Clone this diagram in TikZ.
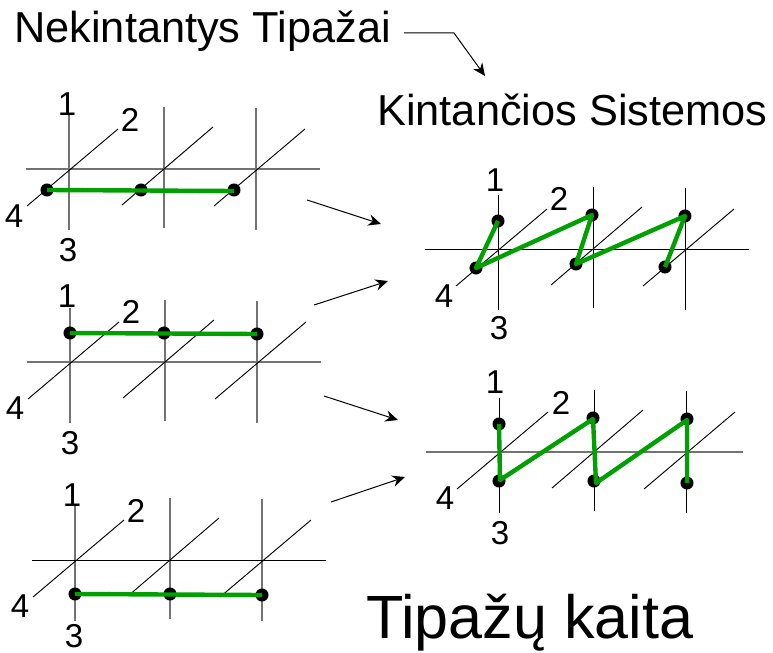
\documentclass[tikz,border=0pt]{standalone}
\usepackage{fontspec}
\setmainfont{Liberation Sans}
\usepackage{xcolor}
\usepackage{tikz}
\usetikzlibrary{arrows.meta}
\definecolor{tipgreen}{HTML}{00A000}
% one panel of axes: shift x, shift y, axis colour, colour of long line, its two ends
\newcommand{\tipgrid}[6]{%
  \begin{scope}[xshift=#1*0.75pt, yshift=-#2*0.75pt]
    \draw[#3] (69,115) -- (69,230);
    \draw[#3] (164,107) -- (164,228);
    \draw[#3] (256,108) -- (256,230);
    \draw[#4] (#5,169) -- (#6,169);
    \draw[diag] (27,206) -- (118,129);
    \draw[diag] (122,205) -- (213,127);
    \draw[diag] (214,206) -- (305,129);
  \end{scope}}

\begin{document}
\begin{tikzpicture}[
  x=0.75pt, y=-0.75pt,
  diag/.style={black, line width=0.7pt},
  gaxis/.style={black!55, line width=1pt},
  baxis/.style={black, line width=0.75pt},
  dot/.style={circle, fill=black, inner sep=0pt, minimum size=9.8pt},
  grn/.style={tipgreen, line width=3.3pt, line join=round},
  arr/.style={-{Stealth[length=9.5pt, width=8.5pt]}, black, line width=0.75pt},
  num/.style={font=\fontsize{24.8pt}{26pt}\selectfont, inner sep=0pt},
  ttl/.style={font=\fontsize{32.5pt}{36pt}\selectfont, inner sep=0pt, anchor=base west}]
\useasboundingbox (0,0) rectangle (773,652);
% ---- axes ----
\tipgrid{0}{0}{gaxis}{gaxis}{26}{320}
\tipgrid{1}{193}{gaxis}{gaxis}{26}{320}
\tipgrid{6}{391}{gaxis}{baxis}{26}{320}
\tipgrid{429}{80}{baxis}{baxis}{-4}{320}
\tipgrid{430}{283}{baxis}{gaxis}{-4}{313}
% ---- titles ----
\node[ttl] (fixed) at (14,43) {Nekintantys Tipažai};
\node[ttl] (varying) at (377,126) {Kintančios Sistemos};
\node[ttl, font=\fontsize{45.8pt}{50pt}\selectfont] (change) at (366,638) {Tipažų kaita};
% ---- first column ----
\node[num] (a1) at (67,104) {1};
\node[num] (a2) at (130,120) {2};
\node[num] (a3) at (68,250) {3};
\node[num] (a4) at (14,216) {4};
\node[dot] (ap) at (47,190) {};
\node[dot] (aq) at (141,190) {};
\node[dot] (ar) at (234,190) {};
\draw[grn] (ap.center) -- (234,191);
\node[num] (b1) at (67,296) {1};
\node[num] (b2) at (131,312) {2};
\node[num] (b3) at (70,443) {3};
\node[num] (b4) at (15,408) {4};
\node[dot] (bp) at (70,333) {};
\node[dot] (bq) at (164,333) {};
\node[dot] (br) at (257,334) {};
\draw[grn] (bp.center) -- (br.center);
\node[num] (c1) at (72,495) {1};
\node[num] (c2) at (136,511) {2};
\node[num] (c3) at (74,636.5) {3};
\node[num] (c4) at (20,606) {4};
\node[dot] (cp) at (75,594) {};
\node[dot] (cq) at (170,594) {};
\node[dot] (cr) at (262,595) {};
\draw[grn] (cp.center) -- (cr.center);
% ---- second column ----
\node[num] (d1) at (495,180) {1};
\node[num] (d2) at (559,199) {2};
\node[num] (d3) at (499,328) {3};
\node[num] (d4) at (444,296) {4};
\node[dot] (dp) at (498,221) {};
\node[dot] (dq) at (476,268) {};
\node[dot] (dr) at (592,215) {};
\node[dot] (ds) at (576,264) {};
\node[dot] (dt) at (685,216) {};
\node[dot] (du) at (665,267) {};
\draw[grn] (dp.center) -- (dq.center) -- (dr.center) -- (ds.center) -- (dt.center) -- (du.center);
\node[num] (e1) at (495,382) {1};
\node[num] (e2) at (561,403) {2};
\node[num] (e3) at (500,533) {3};
\node[num] (e4) at (445,498) {4};
\node[dot] (ep) at (499,424) {};
\node[dot] (eq) at (499,481) {};
\node[dot] (er) at (593,418) {};
\node[dot] (es) at (594,481) {};
\node[dot] (et) at (687,419) {};
\node[dot] (eu) at (687,483) {};
\draw[grn] (ep.center) -- (500,480) -- (593,419) -- (596,483) -- (687,420) -- (eu.center);
% ---- arrows ----
\coordinate (s0) at (404,33);
\coordinate (t0) at (485,76);
\draw[arr] (s0) -- (454,33) -- (t0);
\coordinate (s1) at (307,200);
\coordinate (t1) at (381,224);
\draw[arr] (s1) -- (t1);
\coordinate (s2) at (314,305);
\coordinate (t2) at (388,281);
\draw[arr] (s2) -- (t2);
\coordinate (s3) at (324,396);
\coordinate (t3) at (398,420);
\draw[arr] (s3) -- (t3);
\coordinate (s4) at (331,502);
\coordinate (t4) at (405,477);
\draw[arr] (s4) -- (t4);
\end{tikzpicture}
\end{document}
